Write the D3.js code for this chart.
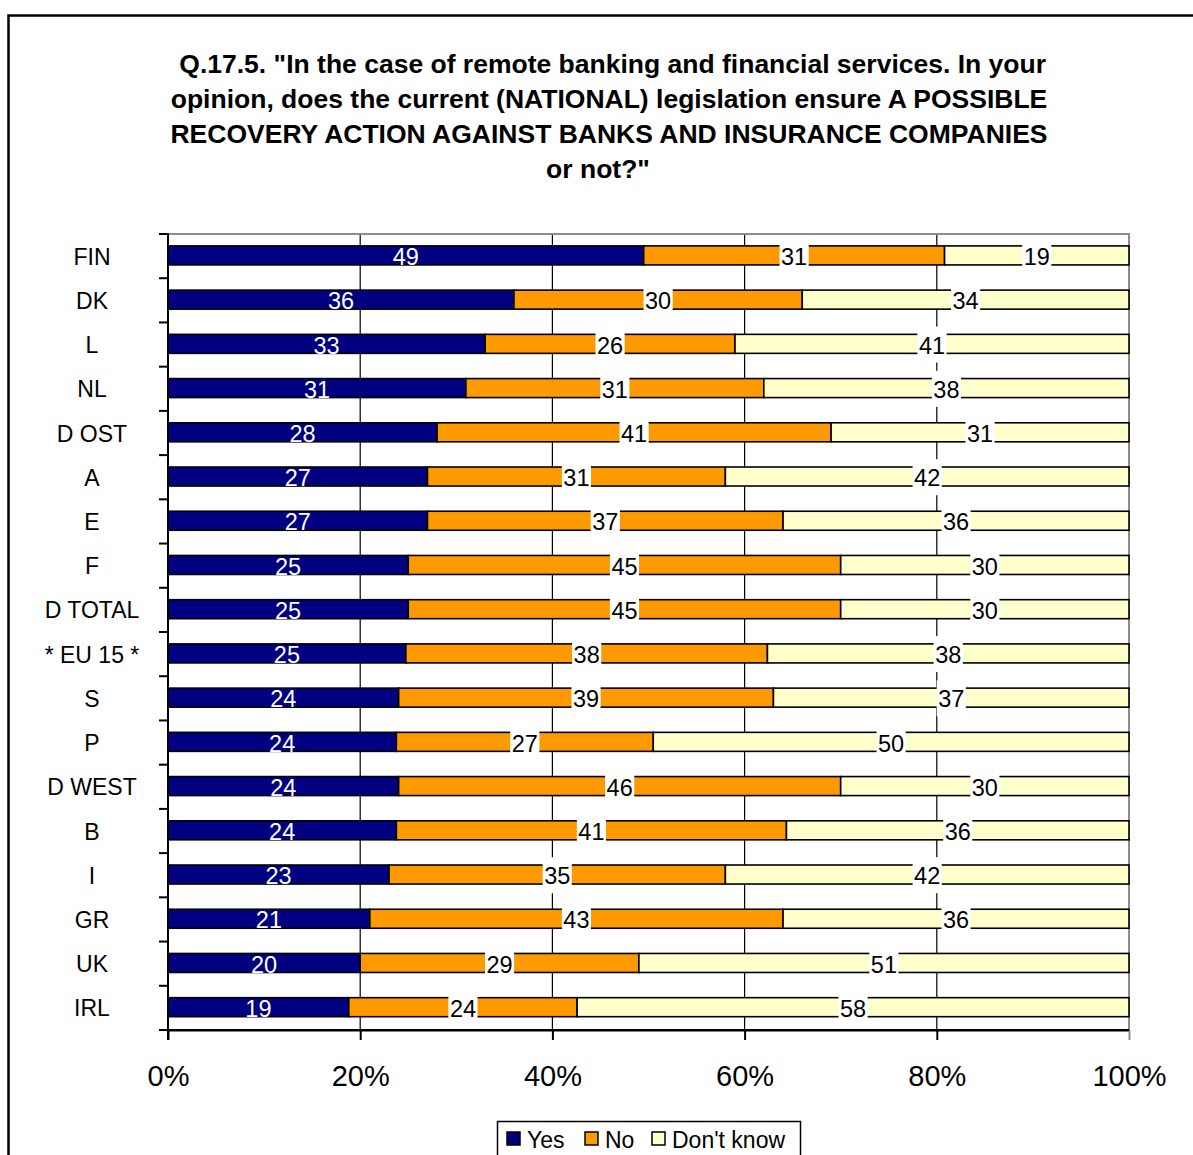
<!DOCTYPE html>
<html>
<head>
<meta charset="utf-8">
<script src="https://cdn.jsdelivr.net/npm/d3@7"></script>
<style>
  html, body { margin: 0; padding: 0; background: #fff; }
  svg text { font-family: "Liberation Sans", Arial, Helvetica, sans-serif; }
</style>
</head>
<body>
<svg id="chart" width="1193" height="1155"></svg>
<script>
// Countries, top to bottom
const countries = ["FIN", "DK", "L", "NL", "D OST", "A", "E", "F", "D TOTAL",
  "* EU 15 *", "S", "P", "D WEST", "B", "I", "GR", "UK", "IRL"];
// Answer shares (%) per country
const yesValues = [49, 36, 33, 31, 28, 27, 27, 25, 25, 25, 24, 24, 24, 24, 23, 21, 20, 19];
const noValues  = [31, 30, 26, 31, 41, 31, 37, 45, 45, 38, 39, 27, 46, 41, 35, 43, 29, 24];
const dkValues  = [19, 34, 41, 38, 31, 42, 36, 30, 30, 38, 37, 50, 30, 36, 42, 36, 51, 58];
const seriesNames = ["Yes", "No", "Don't know"];
const seriesColors = ["#000080", "#FF9900", "#FFFFCC"];
const tickValues = [0, 0.2, 0.4, 0.6, 0.8, 1];
const titleLines = [
  " Q.17.5. \"In the case of remote banking and financial services. In your",
  "opinion, does the current (NATIONAL) legislation ensure A POSSIBLE",
  "RECOVERY ACTION AGAINST BANKS AND INSURANCE COMPANIES",
  "or not?\""
];

const rows = countries.map((c, i) => ({
  country: c, "Yes": yesValues[i], "No": noValues[i], "Don't know": dkValues[i]
}));

const svg = d3.select("#chart");
const plot = { left: 168, right: 1129, top: 234, bottom: 1030 };

// outer chart frame
svg.append("rect")
  .attr("x", 8.5).attr("y", 15.5)
  .attr("width", 1230).attr("height", 1200)
  .attr("fill", "none").attr("stroke", "#000").attr("stroke-width", 2.5);

// title: wrapped lines share a right edge, last line centred
svg.append("g").selectAll("text").data(titleLines).join("text")
  .attr("x", (d, i) => i < titleLines.length - 1 ? 609 : 598)
  .attr("y", (d, i) => 73 + i * 35)
  .attr("text-anchor", "middle")
  .attr("font-size", 26.5).attr("font-weight", "bold")
  .style("white-space", "pre")
  .text(d => d);

const x = d3.scaleLinear().domain([0, 1]).range([plot.left, plot.right]);
const y = d3.scaleBand().domain(countries).range([plot.top, plot.bottom]).padding(0);
const barH = y.bandwidth() * 0.43;

const stack = d3.stack().keys(seriesNames).offset(d3.stackOffsetExpand);
const layers = stack(rows);

// vertical gridlines
svg.append("g").selectAll("line").data(tickValues.slice(1, -1)).join("line")
  .attr("x1", d => x(d)).attr("x2", d => x(d))
  .attr("y1", plot.top).attr("y2", plot.bottom)
  .attr("stroke", "#000").attr("stroke-width", 1.2);

// plot area border (top and right)
svg.append("path")
  .attr("d", `M${plot.left},${plot.top}H${plot.right}V${plot.bottom}`)
  .attr("fill", "none").attr("stroke", "#8c8c8c").attr("stroke-width", 2);

// bars
const layerG = svg.append("g").selectAll("g").data(layers).join("g")
  .attr("fill", (d, i) => seriesColors[i]);
layerG.selectAll("rect").data(d => d).join("rect")
  .attr("x", d => x(d[0]))
  .attr("width", d => x(d[1]) - x(d[0]))
  .attr("y", d => y(d.data.country) + (y.bandwidth() - barH) / 2 - 0.7)
  .attr("height", barH)
  .attr("stroke", "#000").attr("stroke-width", 1.6);

// x axis
const xAxis = svg.append("g")
  .attr("transform", `translate(0,${plot.bottom})`)
  .call(d3.axisBottom(x).tickValues(tickValues)
    .tickFormat(d3.format(".0%")).tickSize(10).tickPadding(25).tickSizeOuter(0));
xAxis.select(".domain").attr("stroke-width", 2);
xAxis.selectAll(".tick line").attr("stroke-width", 2);
xAxis.selectAll(".tick text").attr("font-size", 29).attr("fill", "#000")
  .attr("font-family", "Liberation Sans, Arial, sans-serif");
xAxis.select(".tick:last-child line").attr("stroke", "#8c8c8c");

// y axis: tick marks at category boundaries, labels centred in the gutter
const boundaries = countries.map(c => y(c)).concat([plot.bottom]);
svg.append("g").selectAll("line").data(boundaries).join("line")
  .attr("x1", plot.left - 9).attr("x2", plot.left)
  .attr("y1", d => d).attr("y2", d => d)
  .attr("stroke", "#000").attr("stroke-width", 2);
svg.append("line")
  .attr("x1", plot.left).attr("x2", plot.left)
  .attr("y1", plot.top - 1).attr("y2", plot.bottom + 10)
  .attr("stroke", "#000").attr("stroke-width", 2);
svg.append("line")
  .attr("x1", plot.left - 9).attr("x2", plot.right)
  .attr("y1", plot.bottom).attr("y2", plot.bottom)
  .attr("stroke", "#000").attr("stroke-width", 2);

svg.append("g").selectAll("text").data(countries).join("text")
  .attr("x", 92).attr("y", d => y(d) + y.bandwidth() / 2 + 8.5)
  .attr("text-anchor", "middle")
  .attr("font-size", 23)
  .style("white-space", "pre")
  .text(d => d);

// value labels
layers.forEach((layer, si) => {
  const g = svg.append("g");
  layer.forEach(d => {
    const cx = (x(d[0]) + x(d[1])) / 2;
    const cy = y(d.data.country) + y.bandwidth() / 2;
    const val = d.data[layer.key];
    const t = g.append("text")
      .attr("x", cx).attr("y", cy + 9)
      .attr("text-anchor", "middle")
      .attr("font-size", 23.5)
      .attr("fill", si === 0 ? "#fff" : "#000")
      .text(val);
    if (si > 0) {
      const w = t.node().getComputedTextLength();
      g.insert("rect", () => t.node())
        .attr("x", cx - w / 2 - 1.5).attr("y", cy - 18)
        .attr("width", w + 3).attr("height", 36)
        .attr("fill", "#fff");
    }
  });
});

// legend
const legend = svg.append("g");
legend.append("rect")
  .attr("x", 497.5).attr("y", 1121.5).attr("width", 303).attr("height", 42)
  .attr("fill", "#fff").attr("stroke", "#000").attr("stroke-width", 1.5);
const legendX = [507, 585, 652];
seriesNames.forEach((name, i) => {
  legend.append("rect")
    .attr("x", legendX[i]).attr("y", 1132).attr("width", 13).attr("height", 13)
    .attr("fill", seriesColors[i]).attr("stroke", "#000").attr("stroke-width", 1.5);
  legend.append("text")
    .attr("x", legendX[i] + 20).attr("y", 1148)
    .attr("font-size", 23)
    .text(name);
});
</script>
</body>
</html>
